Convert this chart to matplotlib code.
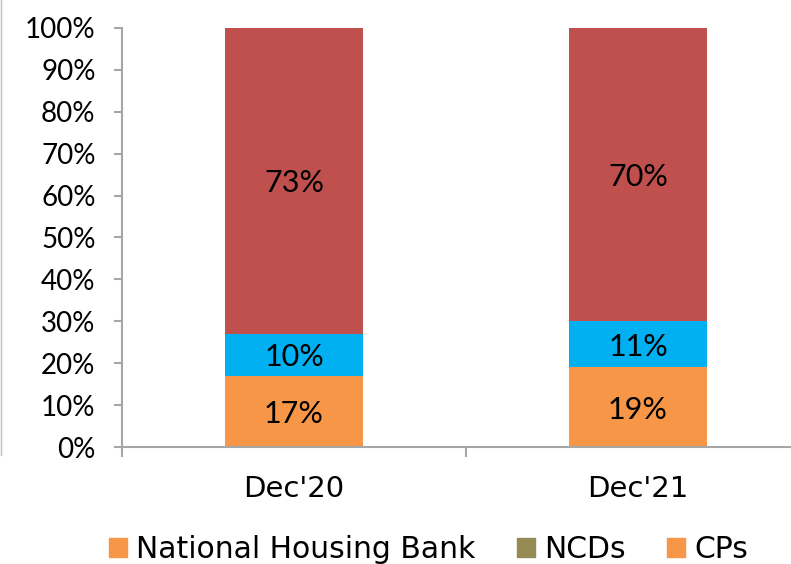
import matplotlib
matplotlib.use("Agg")
import matplotlib.pyplot as plt
from matplotlib.patches import Patch
from matplotlib.lines import Line2D

plt.rcParams['font.family'] = ['Lato', 'DejaVu Sans']

categories = ["Dec'20", "Dec'21"]
national_housing_bank = [17, 19]
ncds = [0, 0]
cps = [0, 0]
segment_blue = [10, 11]
segment_red = [73, 70]
y_ticks = [0, 10, 20, 30, 40, 50, 60, 70, 80, 90, 100]

c_orange = '#F79646'
c_olive = '#948A54'
c_blue = '#00B0F0'
c_red = '#C0504D'
c_axis = '#A6A6A6'
wide_font = ['DejaVu Sans']

W, H = 791, 564
fig = plt.figure(figsize=(W / 100, H / 100), dpi=100)
ax = fig.add_axes([122 / W, 117 / H, (810 - 122) / W, (447 - 28) / H])

x = list(range(len(categories)))
bw = 0.4
bottom = [0] * len(categories)
for vals, col in [(national_housing_bank, c_orange), (ncds, c_olive), (cps, c_orange),
                  (segment_blue, c_blue), (segment_red, c_red)]:
    ax.bar(x, vals, bw, bottom=bottom, color=col, linewidth=0, zorder=2)
    for xi, v, b in zip(x, vals, bottom):
        if v > 0:
            ax.text(xi, b + v / 2 - 0.6, f"{v}%", ha='center', va='center', fontsize=22,
                    color='black', zorder=3)
    bottom = [b + v for b, v in zip(bottom, vals)]

ax.set_xlim(-0.5, 1.5)
ax.set_ylim(0, 100)
ax.set_yticks(y_ticks)
ax.set_yticklabels([f"{t}%" for t in y_ticks], fontsize=20)
ax.set_xticks(x)
ax.set_xticklabels(categories, fontsize=21, family=wide_font)
ax.set_xticks([-0.5, 0.5, 1.5], minor=True)

for s in ['top', 'right']:
    ax.spines[s].set_visible(False)
for s in ['left', 'bottom']:
    ax.spines[s].set_color(c_axis)
    ax.spines[s].set_linewidth(1.5)
ax.tick_params(axis='y', length=6, width=1.5, color=c_axis, pad=13)
ax.tick_params(axis='x', which='major', length=0, pad=20)
ax.tick_params(axis='x', which='minor', length=7, width=1.5, color=c_axis)

handles = [Patch(color=c_orange, label='National Housing Bank'),
           Patch(color=c_olive, label='NCDs'),
           Patch(color=c_orange, label='CPs')]
fig.legend(handles=handles, loc='center left', bbox_to_anchor=(109 / W, 14 / H),
           ncol=3, frameon=False, prop={'family': wide_font, 'size': 21.5},
           handlelength=0.6, handleheight=0.6,
           handletextpad=0.3, columnspacing=1.4, borderpad=0, borderaxespad=0)

fig.add_artist(Line2D([0.5 / W, 0.5 / W], [(H - 455) / H, 1], color='#BFBFBF', linewidth=1))

fig.savefig('out.png', dpi=100)
